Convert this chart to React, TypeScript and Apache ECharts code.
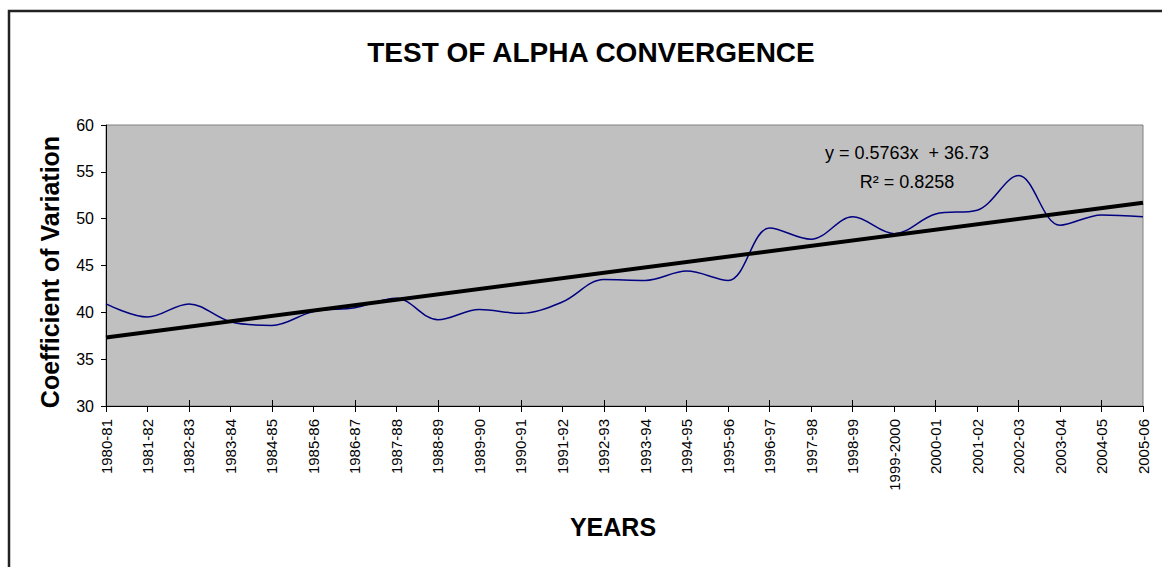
import React, { useEffect, useRef } from "react";
import * as echarts from "echarts";

const years = [
  "1980-81", "1981-82", "1982-83", "1983-84", "1984-85", "1985-86", "1986-87",
  "1987-88", "1988-89", "1989-90", "1990-91", "1991-92", "1992-93", "1993-94",
  "1994-95", "1995-96", "1996-97", "1997-98", "1998-99", "1999-2000", "2000-01",
  "2001-02", "2002-03", "2003-04", "2004-05", "2005-06",
];

const coefficientOfVariation = [
  40.9, 39.5, 40.9, 39.0, 38.6, 40.1, 40.5, 41.5, 39.2, 40.3, 39.9, 41.1, 43.5,
  43.4, 44.4, 43.4, 49.0, 47.8, 50.2, 48.4, 50.5, 50.9, 54.6, 49.3, 50.4, 50.2,
];

// Linear trendline end points (y = 0.5763x + 36.73 at x = 1 and x = 26)
const trendStart = 37.31;
const trendEnd = 51.71;

const yTicks = { min: 30, max: 60, interval: 5 };

const titleText = "TEST OF ALPHA CONVERGENCE";
const yName = "Coefficient of Variation";
const xName = "YEARS";
const equationText = "y = 0.5763x  + 36.73";
const r2Text = "R² = 0.8258";

const FONT = '"Liberation Sans", Arial, sans-serif';

export default function App() {
  const ref = useRef<HTMLDivElement>(null);

  useEffect(() => {
    if (!ref.current) return;
    const chart = echarts.init(ref.current, undefined, { renderer: "svg" });
    chart.setOption({
      animation: false,
      backgroundColor: "#ffffff",
      textStyle: { fontFamily: FONT },
      grid: {
        left: 106,
        top: 125,
        right: 19,
        bottom: 161,
        show: true,
        backgroundColor: "#C0C0C0",
        borderColor: "#808080",
        borderWidth: 1,
      },
      xAxis: [
        {
          type: "category",
          data: years,
          boundaryGap: false,
          axisLine: { lineStyle: { color: "#000", width: 1 } },
          axisTick: { show: true, length: 6, lineStyle: { color: "#000" } },
          axisLabel: {
            rotate: 90,
            margin: 13,
            fontSize: 15,
            color: "#000",
            fontFamily: FONT,
            interval: 0,
          },
          splitLine: { show: false },
        },
        {
          type: "category",
          data: years,
          boundaryGap: false,
          position: "bottom",
          axisLine: { show: false },
          axisTick: { show: true, inside: true, length: 6, lineStyle: { color: "#000" } },
          axisLabel: { show: false },
          splitLine: { show: false },
        },
      ],
      yAxis: {
        type: "value",
        min: yTicks.min,
        max: yTicks.max,
        interval: yTicks.interval,
        axisLine: { show: true, lineStyle: { color: "#000", width: 1 } },
        axisTick: { show: true, length: 5, lineStyle: { color: "#000" } },
        axisLabel: { margin: 12, fontSize: 16, color: "#000", fontFamily: FONT },
        splitLine: { show: false },
      },
      series: [
        {
          type: "line",
          data: coefficientOfVariation,
          smooth: 0.35,
          showSymbol: false,
          symbol: "none",
          lineStyle: { color: "#000080", width: 1.5 },
          itemStyle: { color: "#000080" },
          z: 3,
          markLine: {
            silent: true,
            symbol: ["none", "none"],
            label: { show: false },
            lineStyle: { color: "#000", width: 4, type: "solid" },
            data: [
              [
                { coord: [years[0], trendStart] },
                { coord: [years[years.length - 1], trendEnd] },
              ],
            ],
          },
        },
      ],
      graphic: [
        {
          type: "rect",
          shape: { x: 9, y: 11, width: 1200, height: 620 },
          style: { fill: "none", stroke: "#222", lineWidth: 2.5 },
          silent: true,
        },
        {
          type: "text",
          x: 591,
          y: 52,
          style: {
            text: titleText,
            fontSize: 28,
            fontWeight: "bold",
            fontFamily: FONT,
            fill: "#000",
            align: "center",
            verticalAlign: "middle",
          },
        },
        {
          type: "text",
          x: 50,
          y: 272,
          rotation: Math.PI / 2,
          style: {
            text: yName,
            fontSize: 25,
            fontWeight: "bold",
            fontFamily: FONT,
            fill: "#000",
            align: "center",
            verticalAlign: "middle",
          },
        },
        {
          type: "text",
          x: 613,
          y: 527,
          style: {
            text: xName,
            fontSize: 25,
            fontWeight: "bold",
            fontFamily: FONT,
            fill: "#000",
            align: "center",
            verticalAlign: "middle",
          },
        },
        {
          type: "text",
          x: 907,
          y: 153,
          z: 10,
          style: {
            text: equationText,
            fontSize: 18,
            fontFamily: FONT,
            fill: "#000",
            align: "center",
            verticalAlign: "middle",
          },
        },
        {
          type: "text",
          x: 907,
          y: 182,
          z: 10,
          style: {
            text: r2Text,
            fontSize: 18,
            fontFamily: FONT,
            fill: "#000",
            align: "center",
            verticalAlign: "middle",
          },
        },
      ],
    });
    return () => chart.dispose();
  }, []);

  return (
    <div
      ref={ref}
      style={{ position: "fixed", left: 0, top: 0, width: 1162, height: 567 }}
    />
  );
}
